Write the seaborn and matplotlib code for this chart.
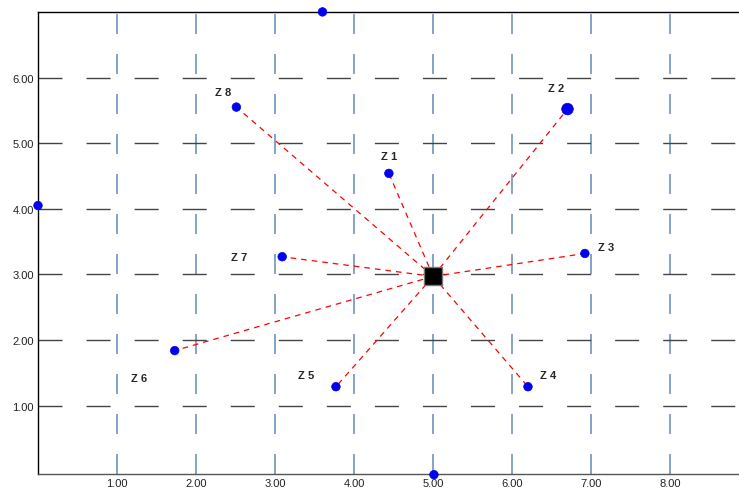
import matplotlib
matplotlib.use('Agg')
import matplotlib.pyplot as plt
import seaborn as sns
import pandas as pd

sns.set_theme(style="white")
plt.rcParams['font.family'] = ['Liberation Sans', 'DejaVu Sans']

# --- data ---
zone_names = ['Z 1', 'Z 2', 'Z 3', 'Z 4', 'Z 5', 'Z 6', 'Z 7', 'Z 8']
zone_x = [4.44, 6.70, 6.92, 6.20, 3.77, 1.73, 3.09, 2.51]
zone_y = [4.54, 5.52, 3.32, 1.29, 1.29, 1.84, 3.27, 5.55]
zone_size = [38, 70, 38, 38, 38, 38, 38, 38]

extra_x = [3.60, 0.00, 5.01]
extra_y = [7.00, 4.05, -0.05]

center_x = 5.00
center_y = 2.97

label_dx = [0.0, -0.15, 0.27, 0.25, -0.38, -0.45, -0.54, -0.17]
label_dy = [0.27, 0.32, 0.10, 0.18, 0.18, -0.41, 0.0, 0.23]

x_ticks = [1, 2, 3, 4, 5, 6, 7, 8]
y_ticks = [1, 2, 3, 4, 5, 6]

fig = plt.figure(figsize=(7.39, 4.89), dpi=100)
ax = fig.add_axes([0.0514, 0.0286, 0.9486, 0.945])

# grid lines (dash lengths in points, scaled by linewidth)
for xv in x_ticks:
    ax.axvline(xv, color='#6f93bf', lw=1.2, dashes=(12.0, 12.0), zorder=1)
for yv in y_ticks:
    ax.axhline(yv, color='#444444', lw=1.0, dashes=(17.3, 17.3), zorder=1)

# spokes from the centre
for zx, zy in zip(zone_x, zone_y):
    ax.plot([center_x, zx], [center_y, zy], color='red', lw=0.9,
            dashes=(4.5, 4), zorder=2)

df = pd.DataFrame({'x': zone_x + extra_x, 'y': zone_y + extra_y,
                   's': zone_size + [38] * len(extra_x)})
sns.scatterplot(data=df, x='x', y='y', size='s', sizes=(38, 70),
                color='#0000ee', edgecolor='#0000ee', legend=False,
                ax=ax, zorder=4, clip_on=False)

ax.scatter([center_x], [center_y], marker='s', s=150, color='black',
           edgecolor='#777777', zorder=5)

for name, zx, zy, dx, dy in zip(zone_names, zone_x, zone_y, label_dx, label_dy):
    ax.text(zx + dx, zy + dy, name, fontsize=8, fontweight='bold',
            ha='center', va='center', zorder=6)

ax.set_xlim(0, 8.87)
ax.set_ylim(-0.04, 7.0)
ax.set_xticks(x_ticks)
ax.set_yticks(y_ticks)
ax.set_xticklabels([f'{v:.2f}' for v in x_ticks], fontsize=8)
ax.set_yticklabels([f'{v:.2f}' for v in y_ticks], fontsize=8)
ax.tick_params(length=0, pad=3, colors='#222222')
ax.set_xlabel('')
ax.set_ylabel('')
for side in ['left', 'bottom', 'top']:
    ax.spines[side].set_color('black')
    ax.spines[side].set_linewidth(1.0)
ax.spines['bottom'].set_color('#555555')
ax.spines['right'].set_visible(False)

fig.savefig('out.png', dpi=100)
